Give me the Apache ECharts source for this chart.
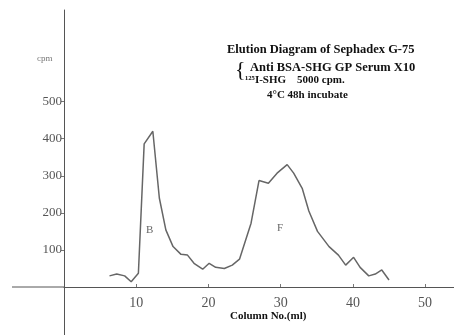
<!DOCTYPE html>
<html>
<head>
<meta charset="utf-8">
<script src="https://cdn.jsdelivr.net/npm/echarts@6/dist/echarts.min.js"></script>
<style>
  html, body { margin: 0; padding: 0; background: #fff; }
  #chart { width: 454px; height: 335px; }
</style>
</head>
<body>
<div id="chart"></div>
<script>
// column no. (ml) and counts
const fractions = [6.3, 7.3, 8.4, 9.3, 10.3, 11.1, 12.3, 13.2, 14.1, 15.1, 16.2, 17.1, 18, 19.2, 20.1, 21, 22.2, 23.3, 24.3,
  25.9, 27, 28.3, 29.5, 30.9, 31.8, 33, 33.9, 35.1, 36.7, 38, 39, 40.1, 41, 42.2, 43.1, 44, 45]
const cpm = [30, 35, 30, 14, 37, 386, 420, 240, 154, 109, 88, 86, 64, 48, 64, 53, 50, 59, 75,
  172, 287, 280, 307, 330, 307, 265, 205, 150, 109, 86, 59, 80, 53, 30, 35, 46, 19]
const xTicks = [10, 20, 30, 40, 50]
const yTicks = [100, 200, 300, 400, 500]

const chart = echarts.init(document.getElementById('chart'))
const serif = 'Liberation Serif'
const axisColor = '#555'

const option = {
  animation: false,
  grid: {
    left: 64,
    right: 0,
    top: 10,
    bottom: 48,
    outerBoundsMode: 'none'
  },
  xAxis: {
    type: 'value',
    min: 0,
    max: 54,
    splitLine: {show: false},
    axisLine: {
      lineStyle: {color: axisColor, width: 1}
    },
    axisTick: {
      customValues: xTicks,
      length: 3,
      inside: true,
      lineStyle: {color: '#777'}
    },
    axisLabel: {
      customValues: xTicks,
      margin: 9,
      color: '#555',
      fontFamily: serif,
      fontSize: 14
    }
  },
  yAxis: {
    type: 'value',
    min: 0,
    max: 747,
    splitLine: {show: false},
    axisLine: {
      show: true,
      lineStyle: {color: axisColor, width: 1}
    },
    axisTick: {
      show: true,
      customValues: yTicks,
      length: 3,
      lineStyle: {color: '#777'}
    },
    axisLabel: {
      customValues: yTicks,
      margin: 2,
      color: '#555',
      fontFamily: serif,
      fontSize: 13
    }
  },
  series: [
    {
      type: 'line',
      data: fractions.map((x, i) => [x, cpm[i]]),
      showSymbol: false,
      lineStyle: {color: '#666', width: 1.5}
    }
  ],
  graphic: [
    // axis lines run past the crossing point, as in the scan
    {type: 'line', shape: {x1: 12, y1: 287, x2: 64, y2: 287}, style: {stroke: axisColor, lineWidth: 1}},
    {type: 'line', shape: {x1: 64.5, y1: 287, x2: 64.5, y2: 335}, style: {stroke: axisColor, lineWidth: 1}},
    {type: 'text', left: 37, top: 54, style: {text: 'cpm', fill: '#777', font: '9px ' + serif}},
    {type: 'text', left: 146, top: 225, style: {text: 'B', fill: '#666', font: '11px ' + serif}},
    {type: 'text', left: 277, top: 223, style: {text: 'F', fill: '#666', font: '11px ' + serif}},
    {type: 'text', left: 227, top: 43, style: {text: 'Elution Diagram of Sephadex G-75', fill: '#111', font: 'bold 12.5px ' + serif}},
    {type: 'text', left: 235, top: 59, style: {text: '{', fill: '#111', font: '22px ' + serif}},
    {type: 'text', left: 250, top: 61, style: {text: 'Anti BSA-SHG GP Serum X10', fill: '#111', font: 'bold 12.5px ' + serif}},
    {type: 'text', left: 245, top: 75, style: {text: '¹²⁵I-SHG    5000 cpm.', fill: '#111', font: 'bold 11px ' + serif}},
    {type: 'text', left: 267, top: 90, style: {text: '4°C 48h incubate', fill: '#111', font: 'bold 11px ' + serif}},
    {type: 'text', left: 230, top: 311, style: {text: 'Column No.(ml)', fill: '#111', font: 'bold 11px ' + serif}}
  ]
}

chart.setOption(option)
</script>
</body>
</html>
